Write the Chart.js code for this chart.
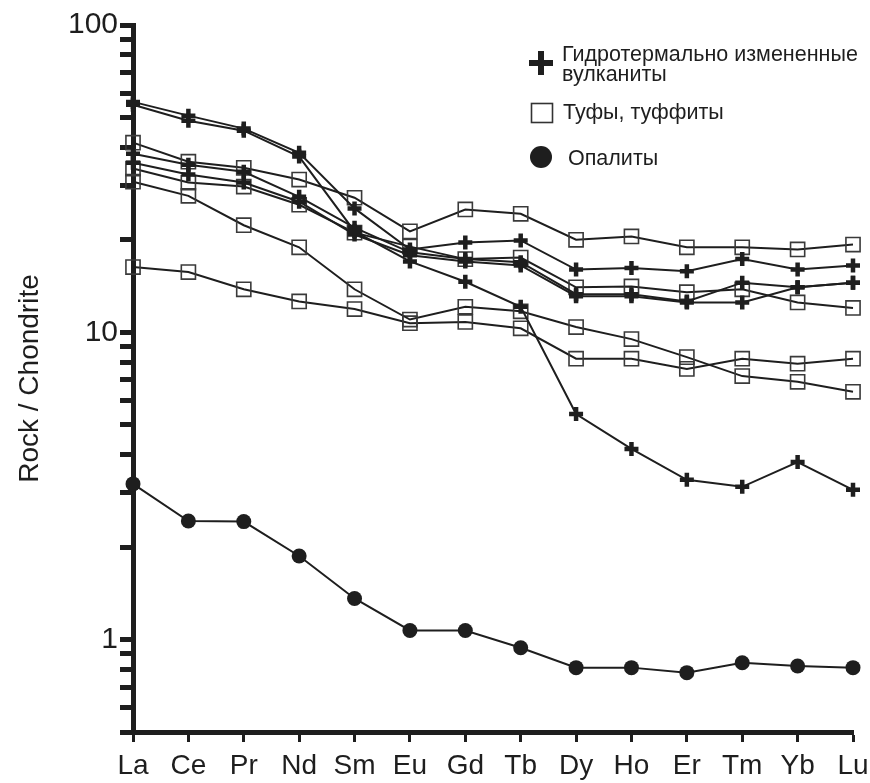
<!DOCTYPE html>
<html>
<head>
<meta charset="utf-8">
<script src="https://cdn.jsdelivr.net/npm/chart.js@4/dist/chart.umd.min.js"></script>
<style>
  html, body { margin: 0; padding: 0; background: #ffffff; }
  #wrap { width: 870px; height: 783px; }
</style>
</head>
<body>
<div id="wrap"><canvas id="c" width="870" height="783"></canvas></div>
<script>
// ---------- DATA ----------
const elements = ['La','Ce','Pr','Nd','Sm','Eu','Gd','Tb','Dy','Ho','Er','Tm','Yb','Lu'];

// Hydrothermally altered volcanics (crosses)
const hydro1 = [56.2, 50.7, 46.0, 38.4, 25.3, 18.6, 19.6, 19.9, 16.0, 16.2, 15.8, 17.3, 16.0, 16.5];
const hydro2 = [55.0, 48.8, 45.3, 37.3, 21.3, 17.0, 14.6, 12.1, 5.42, 4.17, 3.31, 3.14, 3.78, 3.07];
const hydro3 = [38.1, 35.1, 33.3, 27.6, 21.9, 18.2, 17.3, 16.9, 13.3, 13.3, 12.6, 14.5, 14.0, 14.5];
const hydro4 = [35.6, 32.6, 30.7, 26.6, 20.8, 17.8, 17.0, 16.5, 13.1, 13.1, 12.5, 12.5, 14.0, 14.5];

// Tuffs, tuffites (squares)
const tuff1 = [41.4, 35.9, 34.3, 31.4, 27.4, 21.3, 25.1, 24.3, 20.0, 20.5, 18.9, 18.9, 18.6, 19.3];
const tuff2 = [34.1, 30.7, 29.8, 26.0, 21.1, 19.0, 17.3, 17.5, 14.0, 14.1, 13.5, 13.8, 12.5, 12.0];
const tuff3 = [30.9, 27.8, 22.3, 18.9, 13.8, 11.0, 12.1, 11.7, 10.4, 9.5, 8.3, 7.2, 6.9, 6.4];
const tuff4 = [16.3, 15.7, 13.8, 12.6, 11.9, 10.7, 10.8, 10.3, 8.2, 8.2, 7.6, 8.2, 7.9, 8.2];

// Opalites (filled circles)
const opal1 = [3.21, 2.43, 2.42, 1.87, 1.36, 1.07, 1.07, 0.94, 0.81, 0.81, 0.78, 0.84, 0.82, 0.81];

const yTickValues = [0.5,0.6,0.7,0.8,0.9,1,2,3,4,5,6,7,8,9,10,20,30,40,50,60,70,80,90,100];
const yTickLabels = { 1: '1', 10: '10', 100: '100' };

const legendLabels = {
  hydro: ['Гидротермально измененные', 'вулканиты'],
  tuff: 'Туфы, туффиты',
  opal: 'Опалиты'
};
const yTitle = 'Rock / Chondrite';

// ---------- STYLE ----------
const INK = '#1e1e1e';
const FONT = '"Liberation Sans", Arial, Helvetica, sans-serif';

function hydroDs(d) {
  return { data: d, borderColor: INK, borderWidth: 2, pointStyle: 'cross',
    pointRadius: 7, pointBorderWidth: 4.5, pointBorderColor: INK, pointBackgroundColor: INK,
    tension: 0, clip: false };
}
function tuffDs(d) {
  return { data: d, borderColor: INK, borderWidth: 2, pointStyle: 'rect',
    pointRadius: 10, pointBorderWidth: 1.6, pointBorderColor: '#3a3a3a', pointBackgroundColor: 'rgba(0,0,0,0)',
    tension: 0, clip: false };
}
function opalDs(d) {
  return { data: d, borderColor: INK, borderWidth: 2, pointStyle: 'circle',
    pointRadius: 7.5, pointBorderWidth: 0, pointBorderColor: INK, pointBackgroundColor: INK,
    tension: 0, clip: false };
}

const legendPlugin = {
  id: 'customLegend',
  afterDraw(chart) {
    const ctx = chart.ctx;
    ctx.save();
    ctx.fillStyle = INK;
    ctx.strokeStyle = INK;
    // cross
    ctx.lineWidth = 6;
    ctx.beginPath();
    ctx.moveTo(529, 63); ctx.lineTo(553, 63);
    ctx.moveTo(541, 51); ctx.lineTo(541, 75);
    ctx.stroke();
    // square
    ctx.lineWidth = 1.6;
    ctx.strokeStyle = '#333';
    ctx.strokeRect(531.5, 103.5, 21, 19);
    // circle
    ctx.beginPath();
    ctx.arc(541, 157, 11, 0, Math.PI * 2);
    ctx.fill();
    // texts
    ctx.font = '21.5px ' + FONT;
    ctx.textBaseline = 'middle';
    ctx.textAlign = 'left';
    ctx.fillText(legendLabels.hydro[0], 562, 55);
    ctx.fillText(legendLabels.hydro[1], 562, 75);
    ctx.fillText(legendLabels.tuff, 563, 113);
    ctx.fillText(legendLabels.opal, 568, 159);
    ctx.restore();
  }
};

new Chart(document.getElementById('c'), {
  type: 'line',
  data: {
    labels: elements,
    datasets: [
      hydroDs(hydro1), hydroDs(hydro2), hydroDs(hydro3), hydroDs(hydro4),
      tuffDs(tuff1), tuffDs(tuff2), tuffDs(tuff3), tuffDs(tuff4),
      opalDs(opal1)
    ]
  },
  options: {
    responsive: false,
    animation: false,
    devicePixelRatio: 1,
    layout: { padding: { left: 0, right: 17, top: 25, bottom: 0 } },
    plugins: { legend: { display: false }, tooltip: { enabled: false } },
    scales: {
      x: {
        type: 'category',
        offset: false,
        afterFit(scale) { scale.height = 51; scale.paddingRight = 0; scale.paddingLeft = 0; },
        border: { display: true, width: 5, color: INK },
        grid: { display: true, drawOnChartArea: false, drawTicks: true, tickLength: 10, tickWidth: 3, color: INK },
        ticks: { color: INK, font: { family: FONT, size: 28 }, padding: 7, maxRotation: 0, autoSkip: false }
      },
      y: {
        type: 'logarithmic',
        min: 0.5,
        max: 100,
        afterFit(scale) { scale.width = 133; scale.paddingTop = 0; scale.paddingBottom = 0; },
        afterBuildTicks(scale) { scale.ticks = yTickValues.map(v => ({ value: v })); },
        border: { display: true, width: 5, color: INK },
        grid: { display: true, drawOnChartArea: false, drawTicks: true, tickLength: 13, tickWidth: 5, color: INK },
        ticks: {
          color: INK, font: { family: FONT, size: 30 }, padding: 2, autoSkip: false,
          callback: (v) => (yTickLabels[v] !== undefined ? yTickLabels[v] : '')
        },
        title: { display: true, text: yTitle, color: INK, font: { family: FONT, size: 28 }, padding: { top: 13, bottom: 0 } }
      }
    }
  },
  plugins: [legendPlugin]
});
</script>
</body>
</html>
